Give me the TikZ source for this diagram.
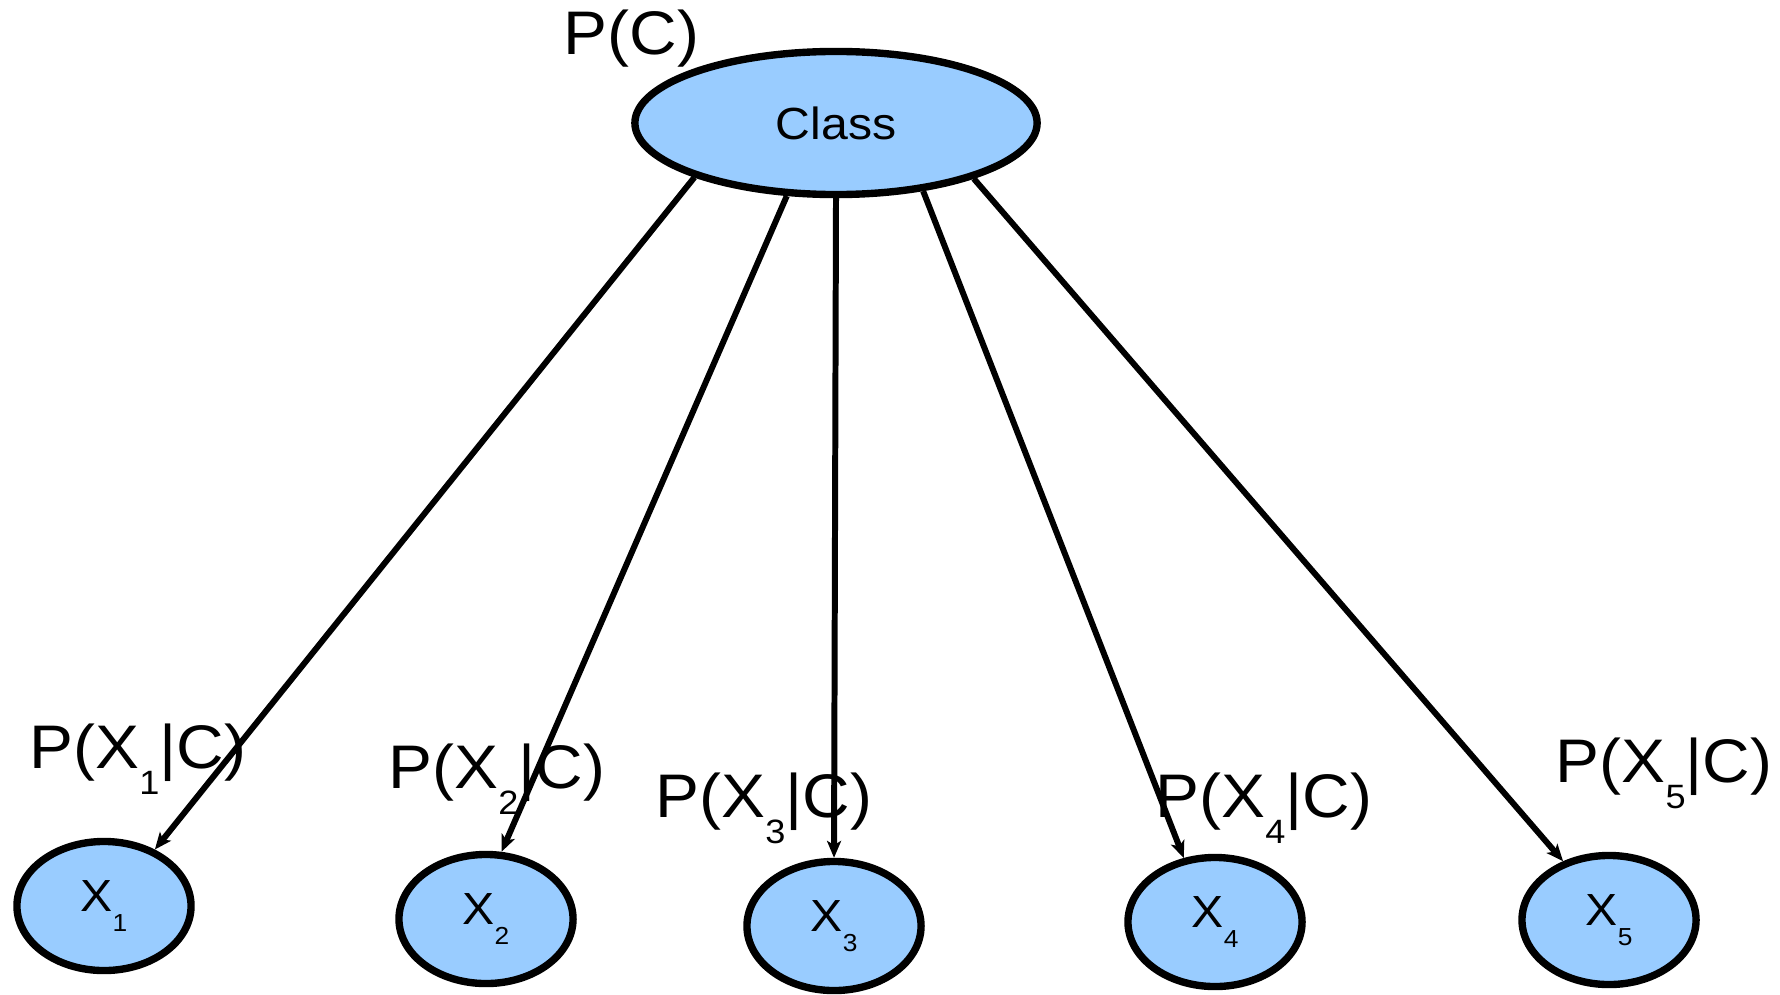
\documentclass[tikz,border=0pt]{standalone}
\usepackage{fontspec}
\setmainfont{Liberation Sans}
\usetikzlibrary{arrows.meta,shapes.geometric}
\definecolor{nodeblue}{HTML}{99CCFF}
% text in this drawing is set slightly widened
\newcommand\wide[1]{\scalebox{1.07}[1]{#1}}
% probability label: P(X_i|C) with a dropped subscript
\newcommand\lblsub[1]{\raisebox{-7.6pt}{\fontsize{9.6pt}{10pt}\selectfont #1}}
\newcommand\plabel[1]{\wide{P(X\lblsub{#1}|C)}}
% variable name inside a node
\newcommand\varsub[1]{\wide{X\raisebox{-5.8pt}{\fontsize{7pt}{8pt}\selectfont #1}}}
\begin{document}
\begin{tikzpicture}[x=0.01cm,y=-0.01cm,
  varnode/.style={ellipse,draw=black,fill=nodeblue,line width=2.1pt,inner sep=0pt,
    font=\fontsize{12.8pt}{14pt}\selectfont},
  classnode/.style={varnode,minimum width=4.02cm,minimum height=1.43cm},
  leafnode/.style={varnode,minimum width=1.74cm,minimum height=1.29cm},
  problabel/.style={anchor=base west,inner sep=0pt,font=\fontsize{17.5pt}{20pt}\selectfont},
  edge/.style={line width=1.7pt,-{Stealth[length=4.8pt,width=4pt,inset=1.2pt]}}]
\useasboundingbox (0,0) rectangle (1780,994);

\node[classnode] (class) at (836,123) {\wide{Class}};
\node[leafnode] (x1) at (104,906) {\varsub{1}};
\node[leafnode] (x2) at (486,919) {\varsub{2}};
\node[leafnode] (x3) at (834,926) {\varsub{3}};
\node[leafnode] (x4) at (1215,922) {\varsub{4}};
\node[leafnode] (x5) at (1609,920) {\varsub{5}};

\draw[edge] (class.201.5) -- (x1.48);
\draw[edge] (class.236.8) -- (x2.77);
\draw[edge] (class.270) -- (x3.90);
\draw[edge] (class.322) -- (x4.116);
\draw[edge] (class.338.5) -- (x5.128.7);

\node[problabel] (pc) at (563,55) {\wide{P(C)}};
\node[problabel] (p1) at (29,768) {\plabel{1}};
\node[problabel] (p2) at (388,788) {\plabel{2}};
\node[problabel] (p3) at (655,817) {\plabel{3}};
\node[problabel] (p4) at (1155,817) {\plabel{4}};
\node[problabel] (p5) at (1555,782) {\plabel{5}};
\end{tikzpicture}
\end{document}
